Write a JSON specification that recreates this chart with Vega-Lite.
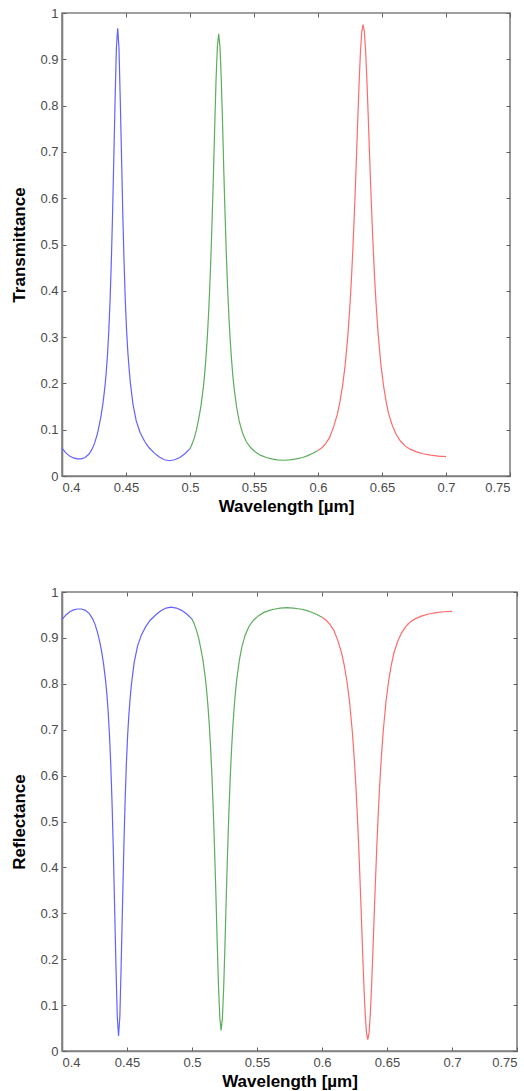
{
  "$schema": "https://vega.github.io/schema/vega-lite/v6.json",
  "padding": {"left": 10, "top": 6, "right": 5, "bottom": 4},
  "spacing": 70,
  "config": {
    "font": "Liberation Sans",
    "view": {"stroke": "#808080", "strokeWidth": 1.6},
    "axis": {
      "grid": false,
      "domainColor": "#808080",
      "domainWidth": 1.6,
      "tickColor": "#606060",
      "tickSize": -4,
      "labelColor": "#4a4a4a",
      "labelFontSize": 13,
      "titleFontSize": 17,
      "titleFontWeight": "bold",
      "titleColor": "#000000"
    },
    "axisX": {"labelPadding": 9, "titlePadding": 4},
    "axisY": {"labelPadding": 8, "titlePadding": 11}
  },
  "datasets": {
    "d": [
      {"band":"blue","wl":0.400,"T":0.060,"R":0.940},
      {"band":"blue","wl":0.403,"T":0.050,"R":0.950},
      {"band":"blue","wl":0.406,"T":0.043,"R":0.957},
      {"band":"blue","wl":0.409,"T":0.039,"R":0.961},
      {"band":"blue","wl":0.412,"T":0.037,"R":0.963},
      {"band":"blue","wl":0.415,"T":0.037,"R":0.963},
      {"band":"blue","wl":0.418,"T":0.040,"R":0.960},
      {"band":"blue","wl":0.421,"T":0.047,"R":0.953},
      {"band":"blue","wl":0.4235,"T":0.058,"R":0.942},
      {"band":"blue","wl":0.4255,"T":0.071,"R":0.929},
      {"band":"blue","wl":0.4275,"T":0.090,"R":0.910},
      {"band":"blue","wl":0.429,"T":0.108,"R":0.892},
      {"band":"blue","wl":0.4305,"T":0.130,"R":0.870},
      {"band":"blue","wl":0.432,"T":0.157,"R":0.843},
      {"band":"blue","wl":0.4335,"T":0.192,"R":0.808},
      {"band":"blue","wl":0.4345,"T":0.222,"R":0.778},
      {"band":"blue","wl":0.4355,"T":0.260,"R":0.740},
      {"band":"blue","wl":0.4365,"T":0.310,"R":0.690},
      {"band":"blue","wl":0.4375,"T":0.375,"R":0.625},
      {"band":"blue","wl":0.4385,"T":0.460,"R":0.540},
      {"band":"blue","wl":0.4395,"T":0.565,"R":0.435},
      {"band":"blue","wl":0.4405,"T":0.690,"R":0.310},
      {"band":"blue","wl":0.4415,"T":0.815,"R":0.185},
      {"band":"blue","wl":0.4425,"T":0.925,"R":0.075},
      {"band":"blue","wl":0.4435,"T":0.967,"R":0.033},
      {"band":"blue","wl":0.4445,"T":0.925,"R":0.075},
      {"band":"blue","wl":0.4455,"T":0.815,"R":0.185},
      {"band":"blue","wl":0.4465,"T":0.690,"R":0.310},
      {"band":"blue","wl":0.4475,"T":0.565,"R":0.435},
      {"band":"blue","wl":0.4485,"T":0.460,"R":0.540},
      {"band":"blue","wl":0.4495,"T":0.375,"R":0.625},
      {"band":"blue","wl":0.4505,"T":0.312,"R":0.688},
      {"band":"blue","wl":0.4515,"T":0.265,"R":0.735},
      {"band":"blue","wl":0.4525,"T":0.229,"R":0.771},
      {"band":"blue","wl":0.4535,"T":0.199,"R":0.801},
      {"band":"blue","wl":0.4555,"T":0.154,"R":0.846},
      {"band":"blue","wl":0.458,"T":0.119,"R":0.881},
      {"band":"blue","wl":0.461,"T":0.094,"R":0.906},
      {"band":"blue","wl":0.4645,"T":0.075,"R":0.925},
      {"band":"blue","wl":0.468,"T":0.061,"R":0.939},
      {"band":"blue","wl":0.472,"T":0.050,"R":0.950},
      {"band":"blue","wl":0.476,"T":0.041,"R":0.959},
      {"band":"blue","wl":0.480,"T":0.035,"R":0.965},
      {"band":"blue","wl":0.484,"T":0.033,"R":0.967},
      {"band":"blue","wl":0.488,"T":0.035,"R":0.965},
      {"band":"blue","wl":0.492,"T":0.040,"R":0.960},
      {"band":"blue","wl":0.496,"T":0.048,"R":0.952},
      {"band":"blue","wl":0.500,"T":0.059,"R":0.941},
      {"band":"green","wl":0.500,"T":0.059,"R":0.941},
      {"band":"green","wl":0.5018,"T":0.070,"R":0.930},
      {"band":"green","wl":0.5035,"T":0.084,"R":0.916},
      {"band":"green","wl":0.5050,"T":0.099,"R":0.901},
      {"band":"green","wl":0.5064,"T":0.118,"R":0.882},
      {"band":"green","wl":0.5084,"T":0.148,"R":0.852},
      {"band":"green","wl":0.5104,"T":0.191,"R":0.809},
      {"band":"green","wl":0.5114,"T":0.219,"R":0.781},
      {"band":"green","wl":0.5124,"T":0.253,"R":0.747},
      {"band":"green","wl":0.5134,"T":0.294,"R":0.706},
      {"band":"green","wl":0.5144,"T":0.344,"R":0.656},
      {"band":"green","wl":0.5154,"T":0.405,"R":0.595},
      {"band":"green","wl":0.5164,"T":0.478,"R":0.522},
      {"band":"green","wl":0.5174,"T":0.565,"R":0.435},
      {"band":"green","wl":0.5184,"T":0.660,"R":0.340},
      {"band":"green","wl":0.5194,"T":0.765,"R":0.235},
      {"band":"green","wl":0.5204,"T":0.860,"R":0.140},
      {"band":"green","wl":0.5214,"T":0.928,"R":0.072},
      {"band":"green","wl":0.5224,"T":0.955,"R":0.045},
      {"band":"green","wl":0.5234,"T":0.928,"R":0.072},
      {"band":"green","wl":0.5244,"T":0.860,"R":0.140},
      {"band":"green","wl":0.5254,"T":0.765,"R":0.235},
      {"band":"green","wl":0.5264,"T":0.660,"R":0.340},
      {"band":"green","wl":0.5274,"T":0.565,"R":0.435},
      {"band":"green","wl":0.5284,"T":0.478,"R":0.522},
      {"band":"green","wl":0.5294,"T":0.405,"R":0.595},
      {"band":"green","wl":0.5304,"T":0.344,"R":0.656},
      {"band":"green","wl":0.5314,"T":0.294,"R":0.706},
      {"band":"green","wl":0.5324,"T":0.253,"R":0.747},
      {"band":"green","wl":0.5334,"T":0.219,"R":0.781},
      {"band":"green","wl":0.5344,"T":0.191,"R":0.809},
      {"band":"green","wl":0.5364,"T":0.149,"R":0.851},
      {"band":"green","wl":0.5384,"T":0.119,"R":0.881},
      {"band":"green","wl":0.541,"T":0.093,"R":0.907},
      {"band":"green","wl":0.544,"T":0.074,"R":0.926},
      {"band":"green","wl":0.5475,"T":0.061,"R":0.939},
      {"band":"green","wl":0.551,"T":0.052,"R":0.948},
      {"band":"green","wl":0.555,"T":0.045,"R":0.955},
      {"band":"green","wl":0.5595,"T":0.040,"R":0.960},
      {"band":"green","wl":0.564,"T":0.037,"R":0.963},
      {"band":"green","wl":0.568,"T":0.035,"R":0.965},
      {"band":"green","wl":0.573,"T":0.034,"R":0.966},
      {"band":"green","wl":0.578,"T":0.035,"R":0.965},
      {"band":"green","wl":0.583,"T":0.037,"R":0.963},
      {"band":"green","wl":0.588,"T":0.040,"R":0.960},
      {"band":"green","wl":0.592,"T":0.044,"R":0.956},
      {"band":"green","wl":0.596,"T":0.049,"R":0.951},
      {"band":"green","wl":0.600,"T":0.055,"R":0.945},
      {"band":"red","wl":0.600,"T":0.055,"R":0.945},
      {"band":"red","wl":0.603,"T":0.061,"R":0.939},
      {"band":"red","wl":0.606,"T":0.070,"R":0.930},
      {"band":"red","wl":0.6092,"T":0.084,"R":0.916},
      {"band":"red","wl":0.6122,"T":0.106,"R":0.894},
      {"band":"red","wl":0.6152,"T":0.134,"R":0.866},
      {"band":"red","wl":0.6172,"T":0.161,"R":0.839},
      {"band":"red","wl":0.6192,"T":0.195,"R":0.805},
      {"band":"red","wl":0.6212,"T":0.239,"R":0.761},
      {"band":"red","wl":0.6232,"T":0.300,"R":0.700},
      {"band":"red","wl":0.6242,"T":0.338,"R":0.662},
      {"band":"red","wl":0.6252,"T":0.380,"R":0.620},
      {"band":"red","wl":0.6262,"T":0.430,"R":0.570},
      {"band":"red","wl":0.6272,"T":0.4875,"R":0.5125},
      {"band":"red","wl":0.6282,"T":0.552,"R":0.448},
      {"band":"red","wl":0.6292,"T":0.624,"R":0.376},
      {"band":"red","wl":0.6302,"T":0.700,"R":0.300},
      {"band":"red","wl":0.6312,"T":0.780,"R":0.220},
      {"band":"red","wl":0.6322,"T":0.855,"R":0.145},
      {"band":"red","wl":0.6332,"T":0.918,"R":0.082},
      {"band":"red","wl":0.6342,"T":0.960,"R":0.040},
      {"band":"red","wl":0.6352,"T":0.975,"R":0.025},
      {"band":"red","wl":0.6362,"T":0.960,"R":0.040},
      {"band":"red","wl":0.6372,"T":0.918,"R":0.082},
      {"band":"red","wl":0.6382,"T":0.855,"R":0.145},
      {"band":"red","wl":0.6392,"T":0.780,"R":0.220},
      {"band":"red","wl":0.6402,"T":0.700,"R":0.300},
      {"band":"red","wl":0.6412,"T":0.624,"R":0.376},
      {"band":"red","wl":0.6422,"T":0.552,"R":0.448},
      {"band":"red","wl":0.6432,"T":0.4875,"R":0.5125},
      {"band":"red","wl":0.6442,"T":0.430,"R":0.570},
      {"band":"red","wl":0.6452,"T":0.380,"R":0.620},
      {"band":"red","wl":0.6462,"T":0.338,"R":0.662},
      {"band":"red","wl":0.6472,"T":0.300,"R":0.700},
      {"band":"red","wl":0.6492,"T":0.239,"R":0.761},
      {"band":"red","wl":0.6512,"T":0.195,"R":0.805},
      {"band":"red","wl":0.6532,"T":0.161,"R":0.839},
      {"band":"red","wl":0.6552,"T":0.134,"R":0.866},
      {"band":"red","wl":0.6582,"T":0.108,"R":0.892},
      {"band":"red","wl":0.6612,"T":0.089,"R":0.911},
      {"band":"red","wl":0.6645,"T":0.075,"R":0.925},
      {"band":"red","wl":0.668,"T":0.065,"R":0.935},
      {"band":"red","wl":0.672,"T":0.058,"R":0.942},
      {"band":"red","wl":0.677,"T":0.052,"R":0.948},
      {"band":"red","wl":0.682,"T":0.048,"R":0.952},
      {"band":"red","wl":0.688,"T":0.045,"R":0.955},
      {"band":"red","wl":0.694,"T":0.043,"R":0.957},
      {"band":"red","wl":0.700,"T":0.042,"R":0.958}
    ]
  },
  "vconcat": [
    {
      "width": 448,
      "height": 463,
      "data": {"name": "d"},
      "layer": [
        {
          "mark": {"type": "line", "strokeWidth": 1.2},
          "encoding": {
            "x": {"field": "wl", "type": "quantitative", "scale": {"domain": [0.4, 0.75], "nice": false},
                  "axis": {"title": "Wavelength [µm]", "values": [0.4,0.45,0.5,0.55,0.6,0.65,0.7,0.75], "format": "~g"}},
            "y": {"field": "T", "type": "quantitative", "scale": {"domain": [0, 1], "nice": false},
                  "axis": {"title": "Transmittance", "values": [0,0.1,0.2,0.3,0.4,0.5,0.6,0.7,0.8,0.9,1], "format": "~g"}},
            "color": {"field": "band", "type": "nominal",
                      "scale": {"domain": ["blue","green","red"], "range": ["#6262ff","#5cad5c","#ff6b6b"]}, "legend": null}
          }
        },
        {
          "mark": {"type": "line", "opacity": 0},
          "encoding": {
            "x": {"field": "wl", "type": "quantitative",
                  "axis": {"orient": "top", "title": null, "labels": false, "domain": false, "values": [0.4,0.45,0.5,0.55,0.6,0.65,0.7,0.75]}},
            "y": {"field": "T", "type": "quantitative",
                  "axis": {"orient": "right", "title": null, "labels": false, "domain": false, "values": [0,0.1,0.2,0.3,0.4,0.5,0.6,0.7,0.8,0.9,1]}},
            "detail": {"field": "band"}
          }
        }
      ],
      "resolve": {"axis": {"x": "independent", "y": "independent"}}
    },
    {
      "width": 455,
      "height": 459,
      "data": {"name": "d"},
      "layer": [
        {
          "mark": {"type": "line", "strokeWidth": 1.2},
          "encoding": {
            "x": {"field": "wl", "type": "quantitative", "scale": {"domain": [0.4, 0.75], "nice": false},
                  "axis": {"title": "Wavelength [µm]", "values": [0.4,0.45,0.5,0.55,0.6,0.65,0.7,0.75], "format": "~g"}},
            "y": {"field": "R", "type": "quantitative", "scale": {"domain": [0, 1], "nice": false},
                  "axis": {"title": "Reflectance", "values": [0,0.1,0.2,0.3,0.4,0.5,0.6,0.7,0.8,0.9,1], "format": "~g"}},
            "color": {"field": "band", "type": "nominal",
                      "scale": {"domain": ["blue","green","red"], "range": ["#6262ff","#5cad5c","#ff6b6b"]}, "legend": null}
          }
        },
        {
          "mark": {"type": "line", "opacity": 0},
          "encoding": {
            "x": {"field": "wl", "type": "quantitative",
                  "axis": {"orient": "top", "title": null, "labels": false, "domain": false, "values": [0.4,0.45,0.5,0.55,0.6,0.65,0.7,0.75]}},
            "y": {"field": "R", "type": "quantitative",
                  "axis": {"orient": "right", "title": null, "labels": false, "domain": false, "values": [0,0.1,0.2,0.3,0.4,0.5,0.6,0.7,0.8,0.9,1]}},
            "detail": {"field": "band"}
          }
        }
      ],
      "resolve": {"axis": {"x": "independent", "y": "independent"}}
    }
  ]
}
